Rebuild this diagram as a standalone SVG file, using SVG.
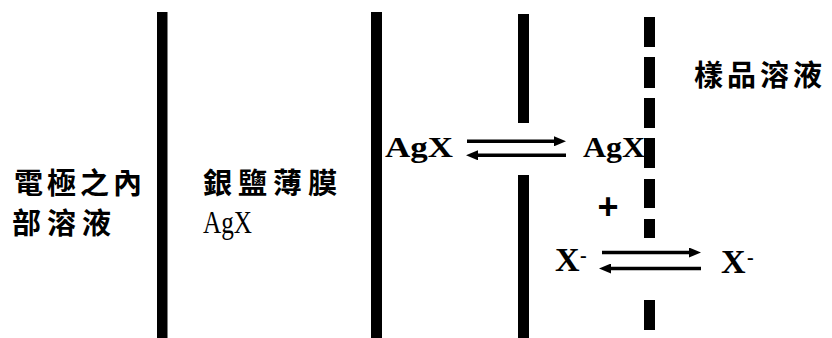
<svg xmlns="http://www.w3.org/2000/svg" width="832" height="338" viewBox="0 0 832 338">
  <style>
    .cjk { font-family: "Noto Sans CJK TC", "Noto Sans CJK SC", sans-serif; font-size: 29px; font-weight: bold; fill: #000; }
    .chem { font-family: "Liberation Serif", "Times New Roman", serif; font-weight: bold; fill: #000; }
    .wall { fill: #000; }
    .arrow { stroke: #000; stroke-width: 3.5; fill: none; }
  </style>
  <defs>
    <marker id="head" markerUnits="userSpaceOnUse" markerWidth="12" markerHeight="10" refX="4" refY="5" orient="auto">
      <path d="M0,0 L12,5 L0,10 z" fill="#000"/>
    </marker>
  </defs>

  <rect width="832" height="338" fill="#fff"/>

  <!-- membrane walls -->
  <g id="walls">
    <rect class="wall" x="157" y="12" width="10.5" height="326"/>
    <rect class="wall" x="371" y="12" width="11" height="326"/>
    <rect class="wall" x="518" y="14" width="11" height="109"/>
    <rect class="wall" x="518" y="175" width="11" height="163"/>
  </g>

  <!-- labels of the regions -->
  <g id="inner-solution">
    <text class="cjk" x="14" y="194" letter-spacing="4">電極之內</text>
    <text class="cjk" x="12" y="234" letter-spacing="6">部溶液</text>
  </g>
  <g id="silver-salt-film">
    <text class="cjk" x="203" y="194" letter-spacing="6">銀鹽薄膜</text>
    <text x="203" y="233" font-family="Liberation Serif, serif" font-size="32" textLength="49" lengthAdjust="spacingAndGlyphs">AgX</text>
  </g>
  <g id="sample-solution">
    <text class="cjk" x="694" y="86" font-size="28" letter-spacing="4">樣品溶液</text>
  </g>

  <!-- equilibria -->
  <g id="agx-left"><text class="chem" x="385" y="157" font-size="30" textLength="68" lengthAdjust="spacingAndGlyphs">AgX</text></g>
  <g id="agx-right"><text class="chem" x="583" y="157" font-size="30" textLength="62" lengthAdjust="spacingAndGlyphs">AgX</text></g>
  <g id="plus"><text x="608" y="219" font-family="Liberation Sans, Arial, sans-serif" font-weight="bold" font-size="36" text-anchor="middle">+</text></g>
  <g id="x-left">
    <text class="chem" x="555" y="271" font-size="34">X</text>
    <text class="chem" x="580" y="262" font-size="20">-</text>
  </g>
  <g id="x-right">
    <text class="chem" x="721" y="273" font-size="34">X</text>
    <text class="chem" x="747" y="264" font-size="20">-</text>
  </g>

  <!-- dashed boundary to the sample -->
  <g id="boundary" class="wall">
    <rect x="644" y="17" width="11" height="30"/>
    <rect x="644" y="57" width="11" height="31"/>
    <rect x="644" y="98" width="11" height="30"/>
    <rect x="644" y="138" width="11" height="30"/>
    <rect x="644" y="179" width="11" height="29"/>
    <rect x="644" y="219" width="11" height="19"/>
    <rect x="644" y="300" width="11" height="30"/>
  </g>

  <g id="connectors">
    <line class="arrow" x1="467" y1="141.3" x2="558" y2="141.3" marker-end="url(#head)"/>
    <line class="arrow" x1="566" y1="155.3" x2="474" y2="155.3" marker-end="url(#head)"/>
    <line class="arrow" x1="602" y1="252.5" x2="693" y2="252.5" marker-end="url(#head)"/>
    <line class="arrow" x1="701" y1="268.5" x2="607" y2="268.5" marker-end="url(#head)"/>
  </g>
</svg>
